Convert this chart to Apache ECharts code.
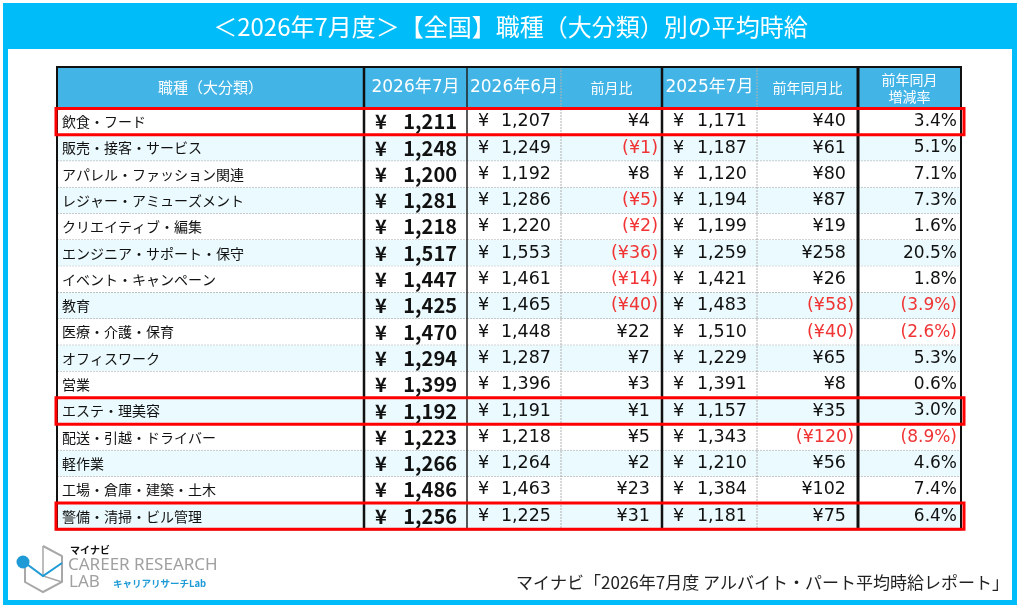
<!DOCTYPE html>
<html>
<head>
<meta charset="utf-8">
<script src="https://cdn.jsdelivr.net/npm/echarts@6/dist/echarts.min.js"></script>
<style>
  html, body { margin: 0; padding: 0; background: #fff; }
  #chart { width: 1021px; height: 608px; }
</style>
</head>
<body>
<div id="chart"></div>
<script>
// データ
const headers = ['職種（大分類）', '2026年7月', '2026年6月', '前月比', '2025年7月', '前年同月比', '前年同月\n増減率'];
const jobs = ['飲食・フード', '販売・接客・サービス', 'アパレル・ファッション関連', 'レジャー・アミューズメント',
  'クリエイティブ・編集', 'エンジニア・サポート・保守', 'イベント・キャンペーン', '教育', '医療・介護・保育',
  'オフィスワーク', '営業', 'エステ・理美容', '配送・引越・ドライバー', '軽作業', '工場・倉庫・建築・土木', '警備・清掃・ビル管理'];
const wageJul2026 = [1211, 1248, 1200, 1281, 1218, 1517, 1447, 1425, 1470, 1294, 1399, 1192, 1223, 1266, 1486, 1256];
const wageJun2026 = [1207, 1249, 1192, 1286, 1220, 1553, 1461, 1465, 1448, 1287, 1396, 1191, 1218, 1264, 1463, 1225];
const diffMonth = [4, -1, 8, -5, -2, -36, -14, -40, 22, 7, 3, 1, 5, 2, 23, 31];
const wageJul2025 = [1171, 1187, 1120, 1194, 1199, 1259, 1421, 1483, 1510, 1229, 1391, 1157, 1343, 1210, 1384, 1181];
const diffYear = [40, 61, 80, 87, 19, 258, 26, -58, -40, 65, 8, 35, -120, 56, 102, 75];
const rateYear = [3.4, 5.1, 7.1, 7.3, 1.6, 20.5, 1.8, -3.9, -2.6, 5.3, 0.6, 3.0, -8.9, 4.6, 7.4, 6.4];
const highlighted = ['飲食・フード', 'エステ・理美容', '警備・清掃・ビル管理'];

const titleText = '＜2026年7月度＞【全国】職種（大分類）別の平均時給';
const sourceText = 'マイナビ「2026年7月度 アルバイト・パート平均時給レポート」';

// レイアウト
const COL_W = [307, 103, 94, 101, 95, 101, 103];
const COL_X = COL_W.reduce((acc, w) => acc.concat(acc[acc.length - 1] + w), [0]);
const TOTAL_W = COL_X[COL_X.length - 1];
const HEADER_ROWS = 1.58;
const FRAME = '#00BCF8';
const RED = '#F03434';
const JP = '"Noto Sans CJK JP"';
const NUM = '"DejaVu Sans", "Noto Sans CJK JP"';

const fmt = n => Math.abs(n).toLocaleString('en-US');

function yenCell(c) {
  return c === 1 ? wageJul2026 : c === 2 ? wageJun2026 : wageJul2025;
}

// セルの描画
function renderCell(params, api) {
  const c = api.value(0), r = api.value(1);
  const p0 = api.coord([COL_X[c], r < 0 ? -HEADER_ROWS : r]);
  const p1 = api.coord([COL_X[c + 1], r < 0 ? 0 : r + 1]);
  const x0 = p0[0], y0 = p0[1], x1 = p1[0], y1 = p1[1], ym = (y0 + y1) / 2;
  const fill = r < 0 ? '#42B4E6' : (r % 2 ? '#EBFAFE' : '#FFFFFF');
  const kids = [{ type: 'rect', shape: { x: x0, y: y0, width: x1 - x0, height: y1 - y0 }, style: { fill } }];
  const txt = (text, x, align, font, color) => kids.push({
    type: 'text',
    style: { text, x, y: ym, align, verticalAlign: 'middle', font, fill: color || '#111', lineHeight: 17 }
  });

  if (r < 0) {
    const small = c === 0 || c === 3 || c >= 5;
    const font = small ? (c === 0 ? 15 : 14) + 'px ' + JP : '17px ' + NUM;
    txt(headers[c], (x0 + x1) / 2, 'center', font, '#FFFFFF');
  } else if (c === 0) {
    txt(jobs[r], x0 + 5, 'left', '14px ' + JP);
  } else if (c === 1 || c === 2 || c === 4) {
    const font = c === 1 ? 'bold 20px ' + JP : '17.5px ' + NUM;
    txt('¥', x0 + 11, 'left', font);
    txt(fmt(yenCell(c)[r]), x1 - 10, 'right', font);
  } else if (c === 3 || c === 5) {
    const v = (c === 3 ? diffMonth : diffYear)[r];
    if (v < 0) txt('(¥' + fmt(v) + ')', x1 - 4, 'right', '17.5px ' + NUM, RED);
    else txt('¥' + fmt(v), x1 - 12, 'right', '17.5px ' + NUM);
  } else {
    const v = rateYear[r];
    if (v < 0) txt('(' + Math.abs(v).toFixed(1) + '%)', x1 - 4, 'right', '17px ' + NUM, RED);
    else txt(v.toFixed(1) + '%', x1 - 4, 'right', '17px ' + NUM);
  }

  if (r >= 0 && r < jobs.length - 1) {
    kids.push({ type: 'line', shape: { x1: x0, y1: y1, x2: x1, y2: y1 },
      style: { stroke: '#A0A0A0', lineWidth: 1, lineDash: [2, 1] } });
  }
  return { type: 'group', children: kids };
}

// 縦罫線
const sepStyles = {
  1: { stroke: '#111', lineWidth: 2.5 },
  2: { stroke: '#222', lineWidth: 1.5 },
  3: { stroke: '#B0B0B0', lineWidth: 1, lineDash: [2, 1] },
  4: { stroke: '#111', lineWidth: 2.5 },
  5: { stroke: '#B0B0B0', lineWidth: 1, lineDash: [2, 1] },
  6: { stroke: '#111', lineWidth: 3 }
};
function renderSep(params, api) {
  const i = api.value(0);
  const a = api.coord([COL_X[i], -HEADER_ROWS]);
  const b = api.coord([COL_X[i], jobs.length]);
  return { type: 'line', shape: { x1: a[0], y1: a[1], x2: b[0], y2: b[1] }, style: sepStyles[i] };
}

function renderBorder(params, api) {
  const a = api.coord([0, -HEADER_ROWS]);
  const b = api.coord([TOTAL_W, jobs.length]);
  return { type: 'rect', shape: { x: a[0], y: a[1], width: b[0] - a[0], height: b[1] - a[1] },
    style: { fill: 'none', stroke: '#111', lineWidth: 2 } };
}

function renderMark(params, api) {
  const r = api.value(1);
  const a = api.coord([0, r]);
  const b = api.coord([TOTAL_W, r + 1]);
  return { type: 'rect', shape: { x: a[0] - 1, y: a[1], width: b[0] - a[0] + 4, height: b[1] - a[1] },
    style: { fill: 'none', stroke: '#FF0000', lineWidth: 3 } };
}

const cells = [];
for (let r = -1; r < jobs.length; r++) {
  for (let c = 0; c < headers.length; c++) cells.push([c, r]);
}

const chart = echarts.init(document.getElementById('chart'));
chart.setOption({
  animation: false,
  title: {
    text: titleText,
    left: 'center',
    top: 10,
    textStyle: { color: '#fff', fontSize: 24, fontWeight: 'normal', fontFamily: JP }
  },
  grid: { left: 57, top: 67, width: TOTAL_W, height: (jobs.length + HEADER_ROWS) * 26.3 },
  xAxis: { type: 'value', min: 0, max: TOTAL_W, show: false },
  yAxis: { type: 'value', min: -HEADER_ROWS, max: jobs.length, inverse: true, show: false },
  graphic: [
    { type: 'rect', z: -10, shape: { x: 5.5, y: 5.5, width: 1009, height: 597 },
      style: { fill: '#fff', stroke: FRAME, lineWidth: 5 } },
    { type: 'rect', z: -9, shape: { x: 3, y: 3, width: 1014, height: 46 }, style: { fill: FRAME } },
    { type: 'text', right: 12, top: 574,
      style: { text: sourceText, font: '17px ' + JP, fill: '#222' } },
    // ロゴ
    { type: 'polyline', shape: { points: [[43, 546], [62, 556], [62, 582], [43, 592], [25, 582], [25, 568]] },
      style: { stroke: '#A8A8A8', lineWidth: 2, fill: 'none' } },
    { type: 'polyline', shape: { points: [[43, 546], [43, 576], [62, 582]] },
      style: { stroke: '#A8A8A8', lineWidth: 1.5, fill: 'none' } },
    { type: 'polyline', shape: { points: [[24, 562], [43, 576], [62, 563]] },
      style: { stroke: '#1E9AD6', lineWidth: 2, fill: 'none' } },
    { type: 'circle', shape: { cx: 23, cy: 562, r: 6.5 }, style: { fill: '#1E9AD6' } },
    { type: 'text', left: 70, top: 545, style: { text: 'マイナビ', font: 'bold 10px ' + JP, fill: '#111' } },
    { type: 'text', left: 68, top: 557, style: { text: 'CAREER RESEARCH', font: '17px "Noto Sans"', fill: '#A0A0A0' } },
    { type: 'text', left: 69, top: 574, style: { text: 'LAB', font: '17px "Noto Sans"', fill: '#A0A0A0' } },
    { type: 'text', left: 113, top: 579, style: { text: 'キャリアリサーチLab', font: 'bold 9.5px ' + JP, fill: '#1E9AD6' } }
  ],
  series: [
    { type: 'custom', z: 2, renderItem: renderCell, data: cells },
    { type: 'custom', z: 3, renderItem: renderSep, data: [1, 2, 3, 4, 5, 6].map(i => [i, 0]) },
    { type: 'custom', z: 4, renderItem: renderBorder, data: [[0, 0]] },
    { type: 'custom', z: 5, renderItem: renderMark,
      data: highlighted.map(h => [0, jobs.indexOf(h)]) }
  ]
});
</script>
</body>
</html>
